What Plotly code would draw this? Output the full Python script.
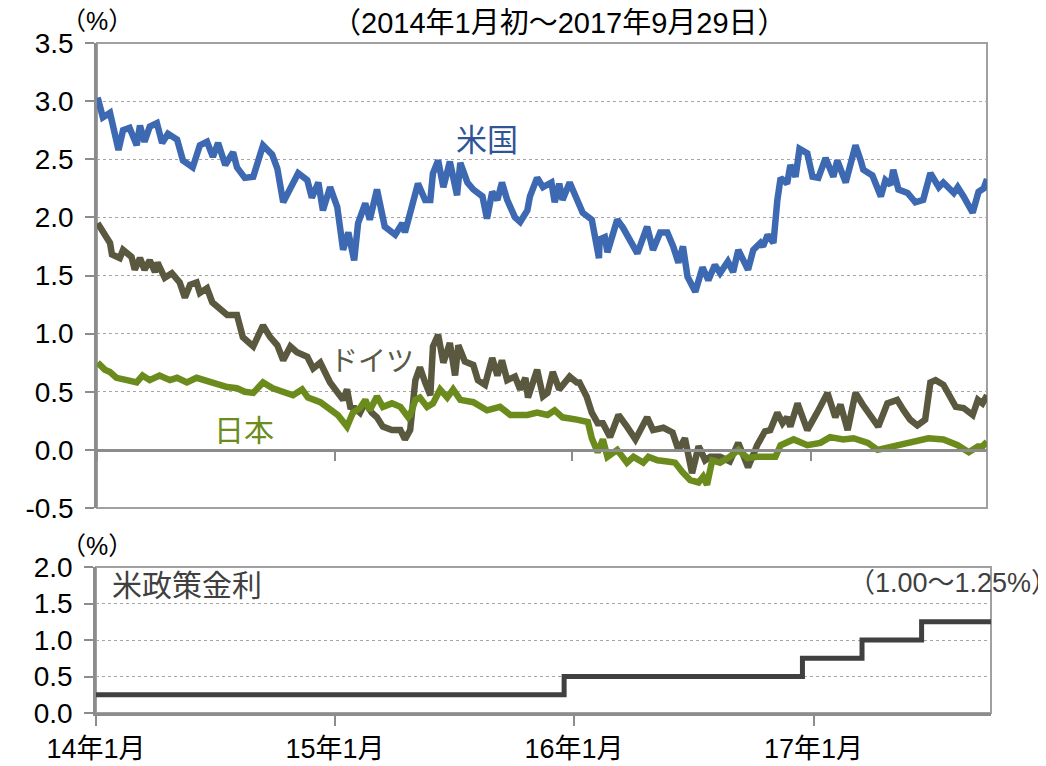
import plotly.graph_objects as go

# ---------------- data ----------------
us_dates = ["2014-01-02","2014-01-10","2014-01-21","2014-01-28","2014-02-03","2014-02-10","2014-02-20","2014-03-03","2014-03-08","2014-03-15","2014-03-23","2014-04-03","2014-04-11","2014-04-20","2014-05-04","2014-05-13","2014-05-28","2014-06-08","2014-06-19","2014-06-28","2014-07-06","2014-07-17","2014-07-29","2014-08-04","2014-08-16","2014-08-29","2014-09-04","2014-09-13","2014-09-27","2014-10-05","2014-10-14","2014-10-25","2014-11-06","2014-11-20","2014-11-27","2014-12-07","2014-12-14","2014-12-25",
            "2015-01-05","2015-01-14","2015-01-22","2015-01-31","2015-02-06","2015-02-17","2015-02-24","2015-03-07","2015-03-19","2015-04-04","2015-04-15","2015-04-19","2015-04-30","2015-05-09","2015-05-20","2015-05-28","2015-06-01","2015-06-09","2015-06-17","2015-06-27","2015-07-08","2015-07-13","2015-07-24","2015-08-02","2015-08-16","2015-08-23","2015-08-31","2015-09-08","2015-09-15","2015-09-23","2015-10-05","2015-10-13","2015-10-24","2015-10-28","2015-11-08","2015-11-17","2015-11-30","2015-12-05","2015-12-12","2015-12-17","2015-12-28",
            "2016-01-08","2016-01-17","2016-01-31","2016-02-04","2016-02-11","2016-02-12","2016-02-20","2016-02-24","2016-03-10","2016-03-19","2016-03-30","2016-04-10","2016-04-25","2016-05-04","2016-05-15","2016-05-26","2016-06-04","2016-06-12","2016-06-19","2016-06-26","2016-07-08","2016-07-19","2016-07-28","2016-08-07","2016-08-15","2016-08-27","2016-09-04","2016-09-12","2016-09-27","2016-10-05","2016-10-16","2016-10-20","2016-10-27","2016-11-05","2016-11-11","2016-11-16","2016-11-26","2016-12-01","2016-12-09","2016-12-15","2016-12-27",
            "2017-01-04","2017-01-13","2017-01-24","2017-02-05","2017-02-11","2017-02-24","2017-03-03","2017-03-11","2017-03-19","2017-03-23","2017-04-06","2017-04-19","2017-04-26","2017-05-04","2017-05-08","2017-05-16","2017-05-30","2017-06-11","2017-06-23","2017-07-04","2017-07-17","2017-07-24","2017-08-09","2017-08-15","2017-08-24","2017-09-07","2017-09-16","2017-09-24","2017-09-29"]
us_values = [3.03,2.86,2.90,2.69,2.58,2.75,2.77,2.62,2.79,2.65,2.78,2.81,2.64,2.72,2.67,2.49,2.43,2.62,2.65,2.52,2.64,2.45,2.56,2.43,2.34,2.35,2.47,2.62,2.54,2.42,2.13,2.24,2.38,2.32,2.17,2.30,2.06,2.26,
             2.09,1.72,1.87,1.63,1.95,2.12,1.98,2.24,1.92,1.85,1.95,1.87,2.09,2.29,2.15,2.15,2.38,2.49,2.26,2.48,2.19,2.47,2.30,2.24,2.18,1.99,2.22,2.15,2.30,2.15,2.00,1.96,2.06,2.18,2.34,2.26,2.30,2.13,2.29,2.15,2.30,
             2.15,2.04,1.98,1.83,1.65,1.81,1.83,1.70,1.98,1.91,1.81,1.69,1.92,1.72,1.87,1.87,1.75,1.61,1.75,1.49,1.36,1.57,1.46,1.59,1.52,1.62,1.53,1.72,1.55,1.72,1.78,1.75,1.85,1.78,2.15,2.34,2.29,2.45,2.35,2.59,2.55,
             2.35,2.34,2.51,2.35,2.49,2.30,2.47,2.62,2.49,2.41,2.36,2.18,2.32,2.28,2.41,2.24,2.21,2.13,2.15,2.38,2.26,2.30,2.21,2.26,2.18,2.04,2.22,2.25,2.33]

de_dates = ["2014-01-02","2014-01-10","2014-01-21","2014-01-24","2014-02-05","2014-02-10","2014-02-23","2014-02-28","2014-03-08","2014-03-15","2014-03-23","2014-03-31","2014-04-04","2014-04-15","2014-04-26","2014-05-08","2014-05-16","2014-05-24","2014-06-03","2014-06-08","2014-06-19","2014-06-27","2014-07-06","2014-07-20","2014-08-04","2014-08-13","2014-08-29","2014-09-04","2014-09-13","2014-09-24","2014-10-05","2014-10-14","2014-10-25","2014-11-04","2014-11-20","2014-11-29","2014-12-10","2014-12-25",
            "2015-01-05","2015-01-14","2015-01-20","2015-01-25","2015-02-01","2015-02-09","2015-02-17","2015-02-27","2015-03-07","2015-03-16","2015-03-30","2015-04-12","2015-04-19","2015-04-27","2015-05-05","2015-05-12","2015-05-20","2015-05-28","2015-06-01","2015-06-09","2015-06-17","2015-06-27","2015-07-05","2015-07-10","2015-07-20","2015-08-02","2015-08-09","2015-08-20","2015-08-31","2015-09-08","2015-09-15","2015-09-23","2015-10-05","2015-10-13","2015-10-21","2015-10-25","2015-11-08","2015-11-17","2015-11-24","2015-12-02","2015-12-12","2015-12-28",
            "2016-01-08","2016-01-12","2016-01-23","2016-01-31","2016-02-09","2016-02-17","2016-02-28","2016-03-12","2016-03-25","2016-04-07","2016-04-25","2016-05-04","2016-05-20","2016-06-03","2016-06-12","2016-06-22","2016-07-03","2016-07-13","2016-07-16","2016-07-23","2016-07-31","2016-08-15","2016-08-30","2016-09-12","2016-09-27","2016-10-11","2016-10-23","2016-10-31","2016-11-11","2016-11-19","2016-11-26","2016-12-01","2016-12-12","2016-12-27",
            "2017-01-11","2017-01-27","2017-02-08","2017-02-16","2017-02-27","2017-03-11","2017-03-22","2017-04-06","2017-04-15","2017-04-29","2017-05-14","2017-05-24","2017-06-03","2017-06-14","2017-06-26","2017-07-04","2017-07-12","2017-07-24","2017-08-01","2017-08-12","2017-08-24","2017-09-07","2017-09-15","2017-09-22","2017-09-29"]
de_values = [1.95,1.87,1.78,1.68,1.65,1.72,1.66,1.55,1.65,1.55,1.63,1.53,1.61,1.48,1.52,1.44,1.31,1.42,1.44,1.35,1.39,1.27,1.23,1.16,1.16,0.97,0.89,0.97,1.07,0.97,0.90,0.77,0.89,0.84,0.80,0.70,0.75,0.58,
             0.49,0.43,0.52,0.37,0.36,0.32,0.41,0.32,0.28,0.20,0.17,0.17,0.09,0.17,0.60,0.71,0.58,0.47,0.89,0.99,0.75,0.92,0.64,0.90,0.76,0.73,0.60,0.56,0.79,0.64,0.77,0.60,0.63,0.52,0.62,0.45,0.69,0.46,0.49,0.67,0.52,0.63,
             0.58,0.58,0.46,0.32,0.23,0.23,0.11,0.30,0.20,0.09,0.28,0.17,0.19,0.15,0.00,0.10,-0.20,0.03,0.00,-0.09,-0.06,-0.06,-0.10,0.06,-0.15,0.04,0.16,0.17,0.32,0.23,0.28,0.20,0.40,0.17,
             0.32,0.49,0.28,0.39,0.17,0.49,0.39,0.26,0.20,0.40,0.43,0.34,0.26,0.21,0.26,0.58,0.60,0.56,0.47,0.37,0.36,0.30,0.43,0.40,0.47]

jp_dates = ["2014-01-02","2014-01-13","2014-01-21","2014-01-31","2014-02-16","2014-03-03","2014-03-12","2014-03-23","2014-04-07","2014-04-23","2014-05-04","2014-05-19","2014-06-03","2014-06-16","2014-07-04","2014-07-20","2014-08-04","2014-08-16","2014-08-29","2014-09-13","2014-09-28","2014-10-17","2014-10-29","2014-11-12","2014-11-21","2014-12-10","2014-12-25",
            "2015-01-06","2015-01-20","2015-01-29","2015-02-09","2015-02-17","2015-02-24","2015-03-07","2015-03-16","2015-03-30","2015-04-12","2015-04-24","2015-04-27","2015-05-05","2015-05-12","2015-05-23","2015-06-01","2015-06-12","2015-06-23","2015-07-02","2015-07-13","2015-08-02","2015-08-23","2015-09-12","2015-09-28","2015-10-24","2015-11-08","2015-11-24","2015-12-05","2015-12-17",
            "2016-01-08","2016-01-25","2016-01-31","2016-02-09","2016-02-17","2016-02-24","2016-03-10","2016-03-25","2016-04-04","2016-04-19","2016-04-27","2016-05-11","2016-05-26","2016-06-07","2016-06-18","2016-06-30","2016-07-13","2016-07-20","2016-07-26","2016-08-03","2016-08-15","2016-08-30","2016-09-12","2016-09-26","2016-10-11","2016-10-27","2016-11-08","2016-11-16","2016-12-06","2016-12-27",
            "2017-01-16","2017-01-31","2017-02-20","2017-03-08","2017-03-30","2017-04-14","2017-04-29","2017-05-19","2017-06-08","2017-07-01","2017-07-24","2017-08-15","2017-09-01","2017-09-15","2017-09-22","2017-09-29"]
jp_values = [0.75,0.69,0.67,0.62,0.60,0.58,0.64,0.60,0.64,0.60,0.62,0.58,0.62,0.60,0.56,0.54,0.53,0.50,0.49,0.58,0.53,0.49,0.47,0.52,0.45,0.41,0.34,
             0.30,0.20,0.32,0.36,0.43,0.34,0.46,0.37,0.40,0.37,0.28,0.30,0.43,0.45,0.37,0.40,0.52,0.45,0.52,0.43,0.41,0.34,0.37,0.30,0.30,0.32,0.30,0.34,0.28,
             0.26,0.24,0.10,-0.02,0.09,-0.06,0.00,-0.11,-0.06,-0.11,-0.06,-0.09,-0.10,-0.11,-0.19,-0.26,-0.28,-0.23,-0.30,-0.09,-0.11,-0.06,0.00,-0.07,-0.06,-0.06,-0.06,0.04,0.09,0.04,
             0.06,0.11,0.09,0.10,0.06,0.00,0.02,0.04,0.06,0.10,0.09,0.04,-0.02,0.03,0.03,0.07]

policy_dates = ["2014-01-01","2015-12-17","2016-12-15","2017-03-16","2017-06-15","2017-09-29"]
policy_values = [0.25, 0.50, 0.75, 1.00, 1.25, 1.25]

x_tick_dates = ["2014-01-01","2015-01-01","2016-01-01","2017-01-01"]
x_tick_labels = ["14年1月","15年1月","16年1月","17年1月"]

top_y_ticks = [-0.5, 0.0, 0.5, 1.0, 1.5, 2.0, 2.5, 3.0, 3.5]
top_y_labels = ["-0.5", "0.0", "0.5", "1.0", "1.5", "2.0", "2.5", "3.0", "3.5"]
bot_y_ticks = [0.0, 0.5, 1.0, 1.5, 2.0]
bot_y_labels = ["0.0", "0.5", "1.0", "1.5", "2.0"]

title_line1 = "日米独の10年国債利回りの推移"
title_line2 = "（2014年1月初～2017年9月29日）"

# ---------------- styling ----------------
# the page body has an 8px margin, so the figure starts 8px in from the window corner
OFF = 8
W, H = 1038, 758
FONT = "Liberation Sans, Arial, Noto Sans CJK JP, sans-serif"
AXIS_GRAY = "#8C8C8C"
GRID_GRAY = "#A6A6A6"
X_RANGE = ["2014-01-01", "2017-09-29"]

def px_x(p):
    return (p - OFF) / W

def px_y(p):
    return 1 - (p - OFF) / H

top_dom_y = [px_y(508), px_y(43)]
bot_dom_y = [px_y(713), px_y(567)]
zero_pos = px_y(43 + 3.5 * (508 - 43) / 4.0)

fig = go.Figure()

fig.add_trace(go.Scatter(x=de_dates, y=de_values, mode="lines", name="ドイツ",
                         line=dict(color="#5A583F", width=6.5), xaxis="x", yaxis="y"))
fig.add_trace(go.Scatter(x=jp_dates, y=jp_values, mode="lines", name="日本",
                         line=dict(color="#6B8C1C", width=6.5), xaxis="x", yaxis="y"))
fig.add_trace(go.Scatter(x=us_dates, y=us_values, mode="lines", name="米国",
                         line=dict(color="#3D69B2", width=6.5), xaxis="x", yaxis="y"))
fig.add_trace(go.Scatter(x=policy_dates, y=policy_values, mode="lines", name="米政策金利",
                         line=dict(color="#404040", width=5, shape="hv"), xaxis="x2", yaxis="y2"))

tickfont = dict(family=FONT, size=28, color="#000000")

fig.update_layout(
    width=W, height=H,
    margin=dict(l=0, r=0, t=0, b=0, autoexpand=False),
    paper_bgcolor="white", plot_bgcolor="white",
    showlegend=False,
    xaxis=dict(domain=[px_x(97), px_x(987)], range=X_RANGE, type="date",
               anchor="free", position=zero_pos, automargin=False,
               showline=True, linecolor=AXIS_GRAY, linewidth=2.5,
               ticks="outside", ticklen=9, tickwidth=1.5, tickcolor=AXIS_GRAY,
               tickvals=x_tick_dates, showticklabels=False, showgrid=False, zeroline=False),
    yaxis=dict(domain=top_dom_y, range=[-0.5, 3.5], tickvals=top_y_ticks, ticktext=top_y_labels,
               anchor="x", automargin=False, showline=True, linecolor=AXIS_GRAY, linewidth=2.5,
               ticks="outside", ticklen=9, tickwidth=1.5, tickcolor=AXIS_GRAY,
               ticklabelstandoff=6, tickfont=tickfont,
               showgrid=True, gridcolor=GRID_GRAY, gridwidth=1, griddash="dot", zeroline=False),
    xaxis2=dict(domain=[px_x(96), px_x(991)], range=X_RANGE, type="date", anchor="y2",
                automargin=False, showline=True, linecolor=AXIS_GRAY, linewidth=2.5,
                ticks="outside", ticklen=10, tickwidth=1.5, tickcolor=AXIS_GRAY,
                tickvals=x_tick_dates, ticktext=x_tick_labels,
                tickfont=dict(family=FONT, size=27, color="#000000"),
                ticklabelstandoff=0, showgrid=False, zeroline=False),
    yaxis2=dict(domain=bot_dom_y, range=[0, 2.0], tickvals=bot_y_ticks, ticktext=bot_y_labels,
                anchor="x2", automargin=False, showline=True, linecolor=AXIS_GRAY, linewidth=2.5,
                ticks="outside", ticklen=9, tickwidth=1.5, tickcolor=AXIS_GRAY,
                ticklabelstandoff=6, tickfont=tickfont,
                showgrid=True, gridcolor=GRID_GRAY, gridwidth=1, griddash="dot", zeroline=False),
)

# plot-area frames
fig.add_shape(type="rect", xref="x domain", yref="y domain", x0=0, x1=1, y0=0, y1=1,
              line=dict(color="#A0A0A0", width=2), layer="below")
fig.add_shape(type="rect", xref="x2 domain", yref="y2 domain", x0=0, x1=1, y0=0, y1=1,
              line=dict(color="#A0A0A0", width=2), layer="below")

def note(text, xp, yp, size, color, xanchor="center"):
    fig.add_annotation(text=text, xref="paper", yref="paper", x=px_x(xp), y=px_y(yp),
                       xanchor=xanchor, yanchor="middle", showarrow=False,
                       font=dict(family=FONT, size=size, color=color))

note(title_line1, 556, -9, 30, "#000000")
note(title_line2, 559, 23, 29, "#000000")
note("（%）", 97, 21, 25, "#000000")
note("（%）", 97, 546, 25, "#000000")
note("米国", 487, 141, 31, "#2F5597")
note("ドイツ", 372, 361, 28, "#595945")
note("日本", 244, 430, 30, "#6B8C1C")
note("米政策金利", 110, 585, 30, "#404040", xanchor="left")
note("（1.00～1.25%）", 953, 583, 27, "#404040")

fig.write_html("out.html")
